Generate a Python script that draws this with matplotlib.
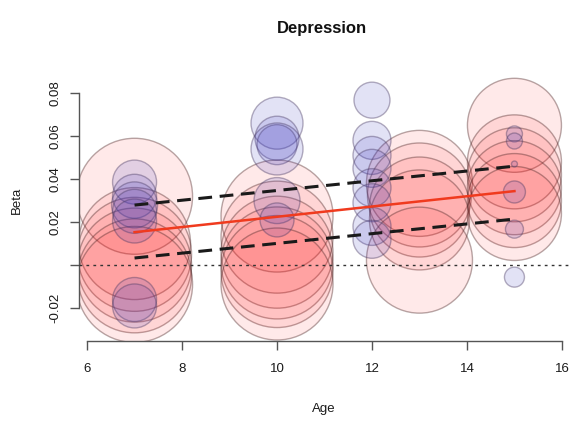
import numpy as np
import matplotlib
matplotlib.use("Agg")
import matplotlib.pyplot as plt

plt.rcParams["font.family"] = ["Liberation Sans", "DejaVu Sans"]

# study-level estimates: age, beta, bubble radius (relative weight)
red_age = [7, 7, 7, 7, 7, 7,
           10, 10, 10, 10, 10, 10,
           13, 13, 13, 13, 13,
           15, 15, 15, 15, 15, 15]
red_beta = [0.032, 0.010, 0.005, 0.000, -0.005, -0.009,
            0.0228, 0.013, 0.006, 0.001, -0.003, -0.0088,
            0.038, 0.0326, 0.027, 0.021, 0.0023,
            0.065, 0.048, 0.042, 0.036, 0.030, 0.024]
red_weight = [58, 56, 57, 57, 57, 58,
              56, 56, 56, 56, 56, 56,
              53, 52, 50, 50, 53,
              47, 47, 47, 47, 47, 47]

blue_age = [7, 7, 7, 7, 7, 7, 7,
            10, 10, 10, 10, 10, 10,
            12, 12, 12, 12, 12, 12, 12, 12,
            15, 15, 15, 15, 15, 15]
blue_beta = [0.0386, 0.032, 0.028, 0.025, 0.0205, -0.016, -0.019,
             0.066, 0.059, 0.056, 0.054, 0.030, 0.021,
             0.0767, 0.058, 0.051, 0.045, 0.036, 0.029, 0.018, 0.012,
             0.061, 0.0577, 0.047, 0.034, 0.0167, -0.0056]
blue_weight = [22, 22, 23, 22, 22, 22, 22,
               26, 22, 20, 26, 23, 17,
               18, 19, 19, 19, 19, 19, 19, 19,
               8, 8, 3, 11, 9, 10]

# meta-regression fit and confidence band
fit_age = [7, 15]
fit_beta = [0.0153, 0.0344]
ci_upper = [0.0279, 0.0460]
ci_lower = [0.0033, 0.0214]

xticks = [6, 8, 10, 12, 14, 16]
yticks = [-0.02, 0.0, 0.02, 0.04, 0.06, 0.08]
ytick_labels = ["-0.02", "", "0.02", "0.04", "0.06", "0.08"]

W, H, DPI = 571, 423, 100
fig = plt.figure(figsize=(W / DPI, H / DPI), dpi=DPI)
ax = fig.add_axes([79 / W, (H - 341) / H, (570 - 79) / W, (341 - 58) / H])


def sizes(r):
    # radius in pixels -> scatter area in points^2
    return (2 * np.asarray(r) * 72 / DPI) ** 2


ax.scatter(red_age, red_beta, s=sizes(red_weight),
           facecolor=(1.0, 0.05, 0.05, 0.09),
           edgecolor=(0.3, 0.15, 0.15, 0.4), linewidths=1.0, zorder=2)
ax.scatter(blue_age, blue_beta, s=sizes(blue_weight),
           facecolor=(0.22, 0.2, 0.75, 0.14),
           edgecolor=(0.28, 0.22, 0.38, 0.4), linewidths=1.0, zorder=3)

ax.axhline(0, color="#333333", lw=1.0, ls=(0, (2, 3)), zorder=4)
ax.plot(fit_age, fit_beta, color="#f03a1e", lw=1.8, zorder=5)
ax.plot(fit_age, ci_upper, color="#1a1a1a", lw=2.2, ls=(0, (4.5, 2.5)), zorder=5)
ax.plot(fit_age, ci_lower, color="#1a1a1a", lw=2.2, ls=(0, (4.5, 2.5)), zorder=5)

ax.set_xlim(5.83, 16.17)
ax.set_ylim(-0.0353, 0.0963)

for side in ["top", "right"]:
    ax.spines[side].set_visible(False)
for side in ["left", "bottom"]:
    ax.spines[side].set_color("#555555")
    ax.spines[side].set_linewidth(1.0)
ax.spines["left"].set_bounds(-0.02, 0.08)
ax.spines["bottom"].set_bounds(6, 16)

ax.set_xticks(xticks)
ax.set_xticklabels([str(t) for t in xticks])
ax.set_yticks(yticks)
ax.set_yticklabels(ytick_labels, rotation=90, va="center")
ax.tick_params(axis="both", length=6.5, width=1.0, color="#555555",
               labelsize=9.5, labelcolor="#1a1a1a")
ax.tick_params(axis="x", pad=9)
ax.tick_params(axis="y", pad=6)

fig.text(322 / W, 1 - 29 / H, "Depression", ha="center", va="center",
         fontsize=12, fontweight="bold", color="#111111")
fig.text(324 / W, 1 - 409 / H, "Age", ha="center", va="center",
         fontsize=9.5, color="#1a1a1a")
fig.text(17 / W, 1 - 200 / H, "Beta", ha="center", va="center",
         rotation=90, fontsize=9.5, color="#1a1a1a")

fig.savefig("out.png", dpi=DPI)
